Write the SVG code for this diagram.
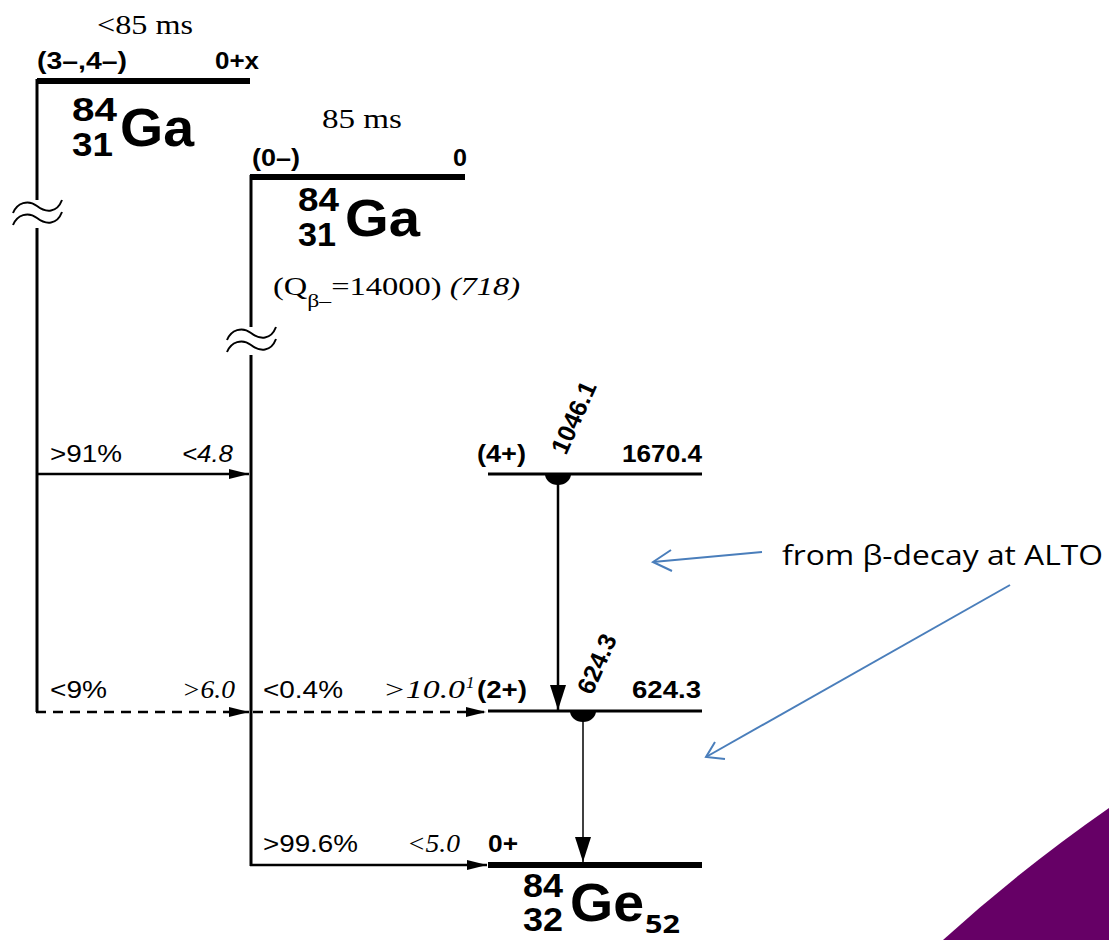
<svg xmlns="http://www.w3.org/2000/svg" width="1109" height="940" viewBox="0 0 1109 940">
<style>
.b{font-family:"Liberation Sans",Arial,sans-serif;font-weight:bold;fill:#000}
.s{font-family:"Liberation Sans",Arial,sans-serif;fill:#000}
.si{font-family:"Liberation Sans",Arial,sans-serif;font-style:italic;fill:#000}
.r{font-family:"Liberation Serif","Times New Roman",serif;fill:#000}
.ri{font-family:"Liberation Serif","Times New Roman",serif;font-style:italic;fill:#000}
.lv{stroke:#000;fill:none}
.brk{stroke:#000;stroke-width:2;fill:none}
.blue{stroke:#4a7ebb;stroke-width:2;fill:none}
</style>
<defs>
<marker id="ah" markerUnits="userSpaceOnUse" markerWidth="22" markerHeight="12" refX="20" refY="6" orient="auto">
<path d="M0,1 L20,6 L0,11 Z" fill="#000"/>
</marker>
<marker id="ag" markerUnits="userSpaceOnUse" markerWidth="18" markerHeight="26" refX="9" refY="25" orient="0">
<path d="M1,0 L9,25 L17,0 Z" fill="#000"/>
</marker>
</defs>
<rect width="1109" height="940" fill="#fff"/>
<path d="M943,940 Q1020,870 1109,808 L1109,940 Z" fill="#660066"/>

<g id="ga84-isomer">
<text class="r" x="97" y="34" font-size="27" textLength="96" lengthAdjust="spacingAndGlyphs">&lt;85 ms</text>
<text class="b" x="37" y="69" font-size="24" textLength="90" lengthAdjust="spacingAndGlyphs">(3–,4–)</text>
<text class="b" x="215" y="69" font-size="24" textLength="44" lengthAdjust="spacingAndGlyphs">0+x</text>
<line class="lv" x1="37" y1="81" x2="250" y2="81" stroke-width="6"/>
<text class="b" x="72" y="121" font-size="33" textLength="45" lengthAdjust="spacingAndGlyphs">84</text>
<text class="b" x="72" y="156" font-size="33" textLength="41" lengthAdjust="spacingAndGlyphs">31</text>
<text class="b" x="120" y="146" font-size="54" textLength="74" lengthAdjust="spacingAndGlyphs">Ga</text>
</g>

<g id="ga84-gs">
<text class="r" x="322" y="128" font-size="27" textLength="80" lengthAdjust="spacingAndGlyphs">85 ms</text>
<text class="b" x="252" y="166" font-size="24" textLength="48" lengthAdjust="spacingAndGlyphs">(0–)</text>
<text class="b" x="453" y="166" font-size="24" textLength="14" lengthAdjust="spacingAndGlyphs">0</text>
<line class="lv" x1="250" y1="177" x2="465" y2="177" stroke-width="6"/>
<text class="b" x="298" y="211" font-size="33" textLength="41" lengthAdjust="spacingAndGlyphs">84</text>
<text class="b" x="298" y="246" font-size="33" textLength="38" lengthAdjust="spacingAndGlyphs">31</text>
<text class="b" x="345" y="236" font-size="52" textLength="75" lengthAdjust="spacingAndGlyphs">Ga</text>
<text class="r" transform="translate(273,295) scale(1.25,1)" font-size="26">(Q<tspan font-size="19" dy="12">β–</tspan><tspan dy="-12">=14000)</tspan><tspan class="ri" font-style="italic"> (718)</tspan></text>
</g>

<g id="ge84-4plus">
<text class="b" x="477" y="462" font-size="24" textLength="49" lengthAdjust="spacingAndGlyphs">(4+)</text>
<text class="b" x="622" y="462" font-size="24" textLength="80" lengthAdjust="spacingAndGlyphs">1670.4</text>
<line class="lv" x1="488" y1="474" x2="702" y2="474" stroke-width="3"/>
<path d="M545,474 A13,11 0 0 0 571,474 Z" fill="#000"/>
<text class="b" transform="translate(566,456) rotate(-66)" font-size="25">1046.1</text>
</g>

<g id="ge84-2plus">
<text class="b" x="477" y="698" font-size="24" textLength="50" lengthAdjust="spacingAndGlyphs">(2+)</text>
<text class="b" x="632" y="698" font-size="24" textLength="69" lengthAdjust="spacingAndGlyphs">624.3</text>
<line class="lv" x1="488" y1="711" x2="702" y2="711" stroke-width="3"/>
<path d="M570,711 A13,11 0 0 0 596,711 Z" fill="#000"/>
<text class="b" transform="translate(592,696) rotate(-66)" font-size="25">624.3</text>
</g>

<g id="ge84-gs">
<text class="b" x="488" y="852" font-size="24" textLength="30" lengthAdjust="spacingAndGlyphs">0+</text>
<line class="lv" x1="488" y1="865" x2="702" y2="865" stroke-width="6"/>
<text class="b" x="523" y="897" font-size="33" textLength="40" lengthAdjust="spacingAndGlyphs">84</text>
<text class="b" x="523" y="931" font-size="33" textLength="40" lengthAdjust="spacingAndGlyphs">32</text>
<text class="b" x="570" y="921" font-size="54" textLength="74" lengthAdjust="spacingAndGlyphs">Ge</text>
<text class="b" x="645" y="933" font-size="25" textLength="35" lengthAdjust="spacingAndGlyphs" style="font-family:'Open Sans','Liberation Sans',sans-serif">52</text>
</g>

<g id="connectors">
<line class="lv" x1="37" y1="79" x2="37" y2="200" stroke-width="3"/>
<line class="lv" x1="37" y1="228" x2="37" y2="712" stroke-width="3"/>
<path class="brk" d="M13,213 C17,203 28,199 37,206 C46,213 57,213 62,200"/>
<path class="brk" d="M13,225 C17,215 28,211 37,218 C46,225 57,225 62,212"/>
<line class="lv" x1="251" y1="175" x2="251" y2="327" stroke-width="3"/>
<line class="lv" x1="251" y1="355" x2="251" y2="866" stroke-width="3"/>
<path class="brk" d="M227,340 C231,330 242,326 251,333 C260,340 271,340 276,327"/>
<path class="brk" d="M227,352 C231,342 242,338 251,345 C260,352 271,352 276,339"/>

<line class="lv" x1="37" y1="474" x2="249" y2="474" stroke-width="2.5" marker-end="url(#ah)"/>
<line class="lv" x1="36" y1="712" x2="249" y2="712" stroke-width="2.5" stroke-dasharray="10,7" marker-end="url(#ah)"/>
<line class="lv" x1="253" y1="712" x2="486" y2="712" stroke-width="2.5" stroke-dasharray="10,7" marker-end="url(#ah)"/>
<line class="lv" x1="250" y1="865" x2="487" y2="865" stroke-width="2.5" marker-end="url(#ah)"/>

<text class="s" x="50" y="462" font-size="24" textLength="72" lengthAdjust="spacingAndGlyphs">&gt;91%</text>
<text class="si" x="182" y="462" font-size="24" textLength="51" lengthAdjust="spacingAndGlyphs">&lt;4.8</text>
<text class="s" x="50" y="698" font-size="24" textLength="57" lengthAdjust="spacingAndGlyphs">&lt;9%</text>
<text class="ri" x="182" y="698" font-size="26" textLength="53" lengthAdjust="spacingAndGlyphs">&gt;6.0</text>
<text class="s" x="263" y="698" font-size="24" textLength="80" lengthAdjust="spacingAndGlyphs">&lt;0.4%</text>
<text class="ri" x="383" y="698" font-size="26" textLength="82" lengthAdjust="spacingAndGlyphs">&gt;10.0</text>
<text class="ri" x="466" y="688" font-size="17">1</text>
<text class="s" x="263" y="852" font-size="24" textLength="95" lengthAdjust="spacingAndGlyphs">&gt;99.6%</text>
<text class="ri" x="407" y="852" font-size="26" textLength="53" lengthAdjust="spacingAndGlyphs">&lt;5.0</text>

<line class="lv" x1="558" y1="480" x2="558" y2="710" stroke-width="2.5" marker-end="url(#ag)"/>
<line class="lv" x1="583" y1="716" x2="583" y2="862" stroke-width="1.5" marker-end="url(#ag)"/>

<line class="blue" x1="762" y1="552" x2="653" y2="562"/>
<polyline class="blue" points="671,550 653,562 672,571"/>
<line class="blue" x1="1010" y1="585" x2="706" y2="757"/>
<polyline class="blue" points="715,742 706,757 725,759"/>
</g>

<g id="annotation">
<text x="782" y="565" font-size="28" textLength="321" lengthAdjust="spacingAndGlyphs" style="font-family:'Open Sans','Liberation Sans',sans-serif;fill:#000">from β-decay at ALTO</text>
</g>
</svg>
